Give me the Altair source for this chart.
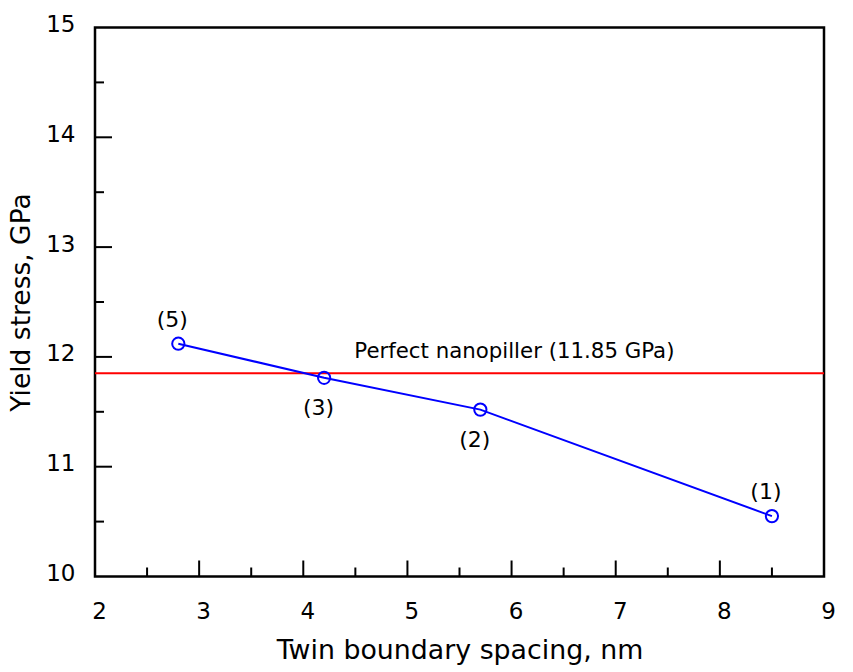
import altair as alt
import pandas as pd

# ---- data ----
spacing_nm = [2.8, 4.2, 5.7, 8.5]
yield_gpa = [12.12, 11.81, 11.52, 10.55]
point_labels = ["(5)", "(3)", "(2)", "(1)"]
labels_above = ["(5)", "(1)"]

perfect_value = 11.85
perfect_label = "Perfect nanopiller (11.85 GPa)"
perfect_label_x = 4.49

x_tick_labels = [2, 3, 4, 5, 6, 7, 8, 9]
y_tick_labels = [10, 11, 12, 13, 14, 15]
x_major_ticks = [3, 4, 5, 6, 7, 8]
x_minor_ticks = [2.5, 3.5, 4.5, 5.5, 6.5, 7.5, 8.5]
y_major_ticks = [11, 12, 13, 14]
y_minor_ticks = [10.5, 11.5, 12.5, 13.5, 14.5]

FONT = "DejaVu Sans"

df = pd.DataFrame({"x": spacing_nm, "y": yield_gpa, "label": point_labels})

xscale = alt.Scale(domain=[2, 9], nice=False, zero=False)
yscale = alt.Scale(domain=[10, 15], nice=False, zero=False)

xaxis = alt.Axis(
    values=x_tick_labels, format="d", ticks=False, tickSize=0, domain=False, grid=False,
    labelFont=FONT, labelFontSize=23, labelColor="black", labelPadding=23.5, labelOffset=4,
    labelFlush=False, title="Twin boundary spacing, nm", titleFont=FONT, titleFontSize=26.8,
    titleFontWeight="normal", titleColor="black", titleY=60.5,
)
yaxis = alt.Axis(
    values=y_tick_labels, format="d", ticks=False, tickSize=0, domain=False, grid=False,
    labelFont=FONT, labelFontSize=23, labelColor="black", labelPadding=20, labelOffset=-3,
    labelFlush=False, title="Yield stress, GPa", titleFont=FONT, titleFontSize=26.5,
    titleFontWeight="normal", titleColor="black", titleX=-66, titleBaseline="alphabetic",
)

base = alt.Chart(df)

line = base.mark_line(color="#0000ff", strokeWidth=2, opacity=1).encode(
    x=alt.X("x:Q", scale=xscale, axis=xaxis),
    y=alt.Y("y:Q", scale=yscale, axis=yaxis),
    order="x:Q",
)
points = base.mark_point(shape="circle", filled=False, color="#0000ff", size=150,
                         strokeWidth=2, opacity=1, fill="white", fillOpacity=0).encode(
    x="x:Q", y="y:Q"
)
above = base.transform_filter(
    alt.FieldOneOfPredicate(field="label", oneOf=labels_above)
).mark_text(font=FONT, fontSize=22, color="black", align="center", baseline="middle", dx=-6, dy=-24).encode(
    x="x:Q", y="y:Q", text="label:N"
)
below = base.transform_filter(
    ~alt.FieldOneOfPredicate(field="label", oneOf=labels_above)
).mark_text(font=FONT, fontSize=22, color="black", align="center", baseline="middle", dx=-5.5, dy=30).encode(
    x="x:Q", y="y:Q", text="label:N"
)

ref_df = pd.DataFrame({"y": [perfect_value], "x": [perfect_label_x], "text": [perfect_label]})
ref_line = alt.Chart(ref_df).mark_rule(color="#ff0000", strokeWidth=2, opacity=1).encode(y="y:Q")
ref_text = alt.Chart(ref_df).mark_text(
    font=FONT, fontSize=21.3, color="black", align="left", baseline="alphabetic", dy=-15
).encode(x="x:Q", y="y:Q", text="text:N")

def xticks(vals, length):
    return alt.Chart(pd.DataFrame({"v": vals})).mark_tick(
        orient="vertical", size=length, thickness=2, color="black", opacity=1, yOffset=-length / 2
    ).encode(x="v:Q", y=alt.datum(10))

def yticks(vals, length):
    return alt.Chart(pd.DataFrame({"v": vals})).mark_tick(
        orient="horizontal", size=length, thickness=2, color="black", opacity=1, xOffset=length / 2
    ).encode(y="v:Q", x=alt.datum(2))

chart = alt.layer(
    ref_line, line, points, above, below, ref_text,
    xticks(x_major_ticks, 16), xticks(x_minor_ticks, 9),
    yticks(y_major_ticks, 17), yticks(y_minor_ticks, 9),
).properties(
    width=729, height=549,
    autosize=alt.AutoSizeParams(type="none"),
    padding={"left": 87, "top": 19.5, "right": 20, "bottom": 92},
).configure(
    font=FONT
).configure_view(
    stroke="black", strokeWidth=2.5
)

chart.save("out.html", embed_options={"renderer": "svg", "actions": False})
